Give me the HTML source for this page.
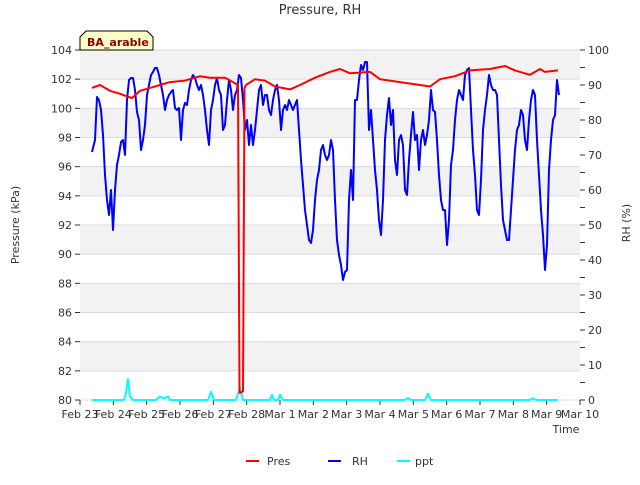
<!DOCTYPE html>
<html><head><meta charset="utf-8"><style>
body{margin:0;background:#fff;font-family:"Liberation Sans","DejaVu Sans",sans-serif}
</style></head><body>
<svg id="c" width="640" height="480" xmlns="http://www.w3.org/2000/svg" font-family="DejaVu Sans, Liberation Sans, sans-serif">
<text x="320" y="14" text-anchor="middle" font-size="13" fill="#333">Pressure, RH</text>
<g id="bands"></g><g id="axes"></g><g id="series"></g>
<text x="19" y="225" transform="rotate(-90 19 225)" text-anchor="middle" font-size="11" fill="#333">Pressure (kPa)</text>
<text x="630" y="223" transform="rotate(-90 630 223)" text-anchor="middle" font-size="11" fill="#333">RH (%)</text>
<text x="566" y="433" text-anchor="middle" font-size="11" fill="#333">Time</text>
<g><path d="M80,50 V37 l6,-6 h61 l6,6 V50 Z" fill="#ffffc8" stroke="#000"/><text x="87" y="46" font-size="11" font-weight="bold" fill="#8b0000">BA_arable</text></g>
<g font-size="11" fill="#333">
<g><line x1="246" y1="461" x2="259" y2="461" stroke="#f00" stroke-width="2"/><text x="267" y="465">Pres</text></g>
<g><line x1="328" y1="461" x2="341" y2="461" stroke="#00f" stroke-width="2"/><text x="352" y="465">RH</text></g>
<g><line x1="397" y1="461" x2="410" y2="461" stroke="#0ff" stroke-width="2"/><text x="415" y="465">ppt</text></g>
</g>
</svg>
<script>
const xTickLabels=["Feb 23","Feb 24","Feb 25","Feb 26","Feb 27","Feb 28","Mar 1","Mar 2","Mar 3","Mar 4","Mar 5","Mar 6","Mar 7","Mar 8","Mar 9","Mar 10"];
const yTicks=[80,82,84,86,88,90,92,94,96,98,100,102,104];
const y2Ticks=[0,10,20,30,40,50,60,70,80,90,100];
// x positions in pixels of reference were converted to days since Feb 23
const rhX=[92,95,97,99,101,103,105,107,109,111,113,115,117,119,121,123,125,127,129,131,133,135,137,139,141,143,145,147,149,151,153,155,157,159,161,163,165,167,169,171,173,175,177,179,181,183,185,187,189,191,193,195,197,199,201,203,205,207,209,211,213,215,217,219,221,223,225,227,229,231,233,235,237,239,241,243,245,247,249,251,253,255,257,259,261,263,265,267,269,271,273,275,277,279,281,283,285,287,289,291,293,295,297,299,301,303,305,307,309,311,313,315,317,319,321,323,325,327,329,331,333,335,337,339,341,343,345,347,349,351,353,355,357,359,361,363,365,367,369,371,373,375,377,379,381,383,385,387,389,391,393,395,397,399,401,403,405,407,409,411,413,415,417,419,421,423,425,427,429,431,433,435,437,439,441,443,445,447,449,451,453,455,457,459,461,463,465,467,469,471,473,475,477,479,481,483,485,487,489,491,493,495,497,499,501,503,505,507,509,511,513,515,517,519,521,523,525,527,529,531,533,535,537,539,541,543,545,547,549,551,553,555,557,559].map(x=>(x-80)/33.333);
const rhY=[152,140,97,100,110,135,175,200,215,190,230,190,165,155,142,140,155,100,80,78,78,90,112,120,150,140,125,95,85,75,72,68,68,75,85,95,110,100,95,92,90,108,110,108,140,110,103,105,90,80,75,78,85,90,85,95,110,130,145,110,100,85,78,90,95,130,125,100,80,90,110,95,90,75,78,100,130,120,145,125,145,130,110,90,85,105,95,95,110,115,100,90,85,100,130,110,105,110,100,105,110,105,100,130,160,185,210,225,240,243,230,200,180,170,150,145,155,160,155,140,150,200,240,255,265,280,272,270,200,170,200,100,100,80,65,70,62,62,130,110,140,170,190,220,235,200,140,115,98,125,110,160,175,140,135,145,190,195,160,135,112,140,135,170,140,130,145,135,120,90,110,112,140,175,200,210,210,245,220,165,150,120,100,90,95,100,75,70,68,110,150,175,210,215,180,130,110,95,75,85,90,90,95,140,185,220,230,240,240,210,180,150,130,125,110,115,140,150,120,100,90,95,140,175,210,235,270,245,170,140,120,115,80,95];
const rhDays=rhX;
const rhValues=rhY.map(y=>(400-y)/3.5);
const presDays=[92,100,110,120,132,140,150,160,170,185,200,210,225,233,238,239.5,240.5,243,244.5,246,255,265,275,290,300,315,330,340,350,370,380,400,420,430,440,455,470,490,505,515,530,540,545,558].map(x=>(x-80)/33.333);
const presValues=[101.4,101.6,101.2,101.0,100.7,101.2,101.4,101.6,101.8,101.9,102.2,102.1,102.1,101.8,101.6,80.5,80.5,80.6,101.4,101.6,102.0,101.9,101.5,101.3,101.6,102.1,102.5,102.7,102.4,102.5,102.0,101.8,101.6,101.5,102.0,102.2,102.6,102.7,102.9,102.6,102.3,102.7,102.5,102.6];
const pptDays=[92,124,126,128,130,133,156,160,164,168,170,208,211,214,236,240,243,270,272,274,278,280,283,405,408,411,425,428,431,530,533,536,558].map(x=>(x-80)/33.333);
const pptValues=[0,0,2,6,1,0,0,1,0.5,1,0,0,2.3,0,0,3.5,0,0,1.5,0,0,1.5,0,0,0.6,0,0,1.8,0,0,0.5,0,0];

const NS="http://www.w3.org/2000/svg";
const L=80,R=580,T=50,B=400;
const xs=d=>L+d*(R-L)/15;
const ys=p=>B-(p-80)*(B-T)/24;
const ys2=v=>B-v*(B-T)/100;
function mk(tag,attrs,parent){const e=document.createElementNS(NS,tag);for(const k in attrs)e.setAttribute(k,attrs[k]);parent.appendChild(e);return e;}
const bands=document.getElementById('bands'),axes=document.getElementById('axes'),series=document.getElementById('series');
mk('rect',{x:L,y:T,width:R-L,height:B-T,fill:'#fff'},bands);
for(let v=82;v<104;v+=4){const r=mk('rect',{x:L,y:ys(v+2),width:R-L,height:ys(v)-ys(v+2),fill:'#f2f2f2'},bands);

}
yTicks.forEach(v=>{
const g=mk('line',{x1:L,x2:R,y1:ys(v),y2:ys(v),stroke:'#dcdcdc'},axes);


mk('line',{x1:L-5,x2:L,y1:ys(v),y2:ys(v),stroke:'#333'},axes);
const t=mk('text',{x:L-8,y:ys(v)+4,'text-anchor':'end','font-size':11,fill:'#333'},axes);t.textContent=v;


});
y2Ticks.forEach(v=>{
mk('line',{x1:R,x2:R+5,y1:ys2(v),y2:ys2(v),stroke:'#333'},axes);
if(v<100)mk('line',{x1:R,x2:R+5,y1:ys2(v+5),y2:ys2(v+5),stroke:'#333'},axes);
const t=mk('text',{x:R+8,y:ys2(v)+4,'font-size':11,fill:'#333'},axes);t.textContent=v;


});
xTickLabels.forEach((s,i)=>{
mk('line',{x1:xs(i),x2:xs(i),y1:B,y2:B+5,stroke:'#333'},axes);
const t=mk('text',{x:xs(i),y:B+18,'text-anchor':'middle','font-size':11,fill:'#333'},axes);t.textContent=s;


});
function line(days,vals,sc,col,name){
const d=days.map((x,i)=>(i?'L':'M')+xs(x).toFixed(1)+','+sc(vals[i]).toFixed(1)).join('');
const p=mk('path',{d:d,fill:'none',stroke:col,'stroke-width':2,'stroke-linejoin':'round'},series);


}
line(pptDays,pptValues,ys2,'#0ff','ppt-line');
line(rhDays,rhValues,ys2,'#00f','rh-line');
line(presDays,presValues,ys,'#f00','pres-line');
</script>
</body></html>
